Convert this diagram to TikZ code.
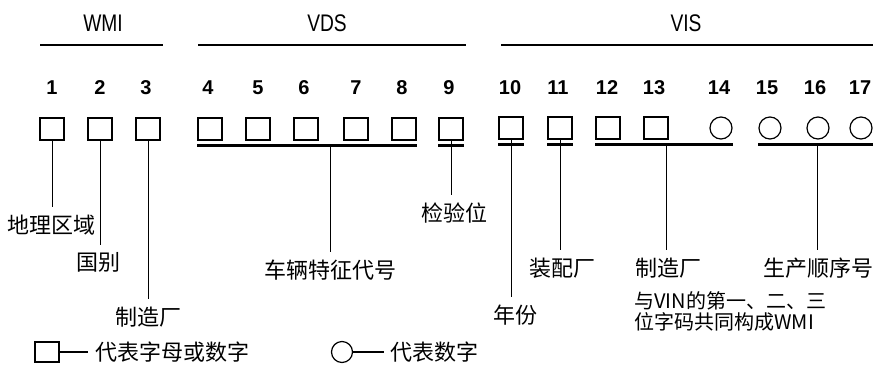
\documentclass[tikz,border=0pt]{standalone}
\usepackage{fontspec}
\setmainfont{Liberation Sans}
\newfontfamily\cjk{Noto Sans CJK SC}
\newfontfamily\narrowsf[FakeStretch=0.8]{Liberation Sans}

\begin{document}
\begin{tikzpicture}[x=0.5pt,y=-0.5pt,
  sq/.style={draw,line width=0.6pt,minimum width=12pt,minimum height=11pt,inner sep=0pt},
  rnd/.style={draw,circle,line width=0.6pt,minimum size=11pt,inner sep=0pt},
  num/.style={font=\bfseries\fontsize{10}{12}\selectfont,inner sep=0pt},
  grp/.style={font=\narrowsf\fontsize{12}{14}\selectfont,inner sep=0pt},
  lbl/.style={font=\cjk\fontsize{11}{13}\selectfont,inner sep=3.5pt},
  note/.style={font=\cjk\fontsize{10}{12}\selectfont,inner sep=0pt,anchor=west},
  bar/.style={line width=1.2pt},
  ubar/.style={line width=1.5pt},
  stem/.style={line width=0.5pt}]

  \useasboundingbox (0,0) rectangle (873,365);

  %% -- sections
  \node[grp] (wmi) at (103,23) {WMI};
  \node[grp] (vds) at (327,23) {VDS};
  \node[grp] (vis) at (686,23) {VIS};
  \draw[bar] (40,45) -- (163,45);
  \draw[bar] (198,45) -- (466,45);
  \draw[bar] (501,45) -- (873,45);

  %% -- positions
  \node[num] (n1)  at (52,88)  {1};
  \node[num] (n2)  at (100,88) {2};
  \node[num] (n3)  at (146,88) {3};
  \node[num] (n4)  at (208,88) {4};
  \node[num] (n5)  at (258,88) {5};
  \node[num] (n6)  at (304,88) {6};
  \node[num] (n7)  at (356,88) {7};
  \node[num] (n8)  at (402,88) {8};
  \node[num] (n9)  at (449,88) {9};
  \node[num] (n10) at (510,88) {10};
  \node[num] (n11) at (558,88) {11};
  \node[num] (n12) at (607,88) {12};
  \node[num] (n13) at (654,88) {13};
  \node[num] (n14) at (719,88) {14};
  \node[num] (n15) at (767,88) {15};
  \node[num] (n16) at (815,88) {16};
  \node[num] (n17) at (860,88) {17};

  %% -- characters
  \node[sq]  (b1)  at (52,129)  {};
  \node[sq]  (b2)  at (100,129) {};
  \node[sq]  (b3)  at (148,129) {};
  \node[sq]  (b4)  at (210,129) {};
  \node[sq]  (b5)  at (258,129) {};
  \node[sq]  (b6)  at (306,129) {};
  \node[sq]  (b7)  at (356,129) {};
  \node[sq]  (b8)  at (404,129) {};
  \node[sq]  (b9)  at (451,129) {};
  \node[sq]  (b10) at (511,128) {};
  \node[sq]  (b11) at (560,128) {};
  \node[sq]  (b12) at (608,128) {};
  \node[sq]  (b13) at (656,128) {};
  \node[rnd] (c14) at (721,128) {};
  \node[rnd] (c15) at (770,128) {};
  \node[rnd] (c16) at (818,128) {};
  \node[rnd] (c17) at (861,128) {};

  %% -- meanings
  \node[lbl] (t1)    at (52,225)  {地理区域};
  \node[lbl] (t2)    at (98,262)  {国别};
  \node[lbl] (t3)    at (148,317) {制造厂};
  \node[lbl] (t48)   at (330,270) {车辆特征代号};
  \node[lbl] (t9)    at (454,213) {检验位};
  \node[lbl] (t10)   at (515,315) {年份};
  \node[lbl] (t11)   at (562,268) {装配厂};
  \node[lbl] (t1214) at (668,268) {制造厂};
  \node[note] (t1214a) at (634,301) {与VIN的第一、二、三};
  \node[note] (t1214b) at (634,322) {位字码共同构成WMI};
  \node[lbl] (t1517) at (818,268) {生产顺序号};

  %% -- legend
  \node[sq,minimum height=10pt] (k1) at (47,352) {};
  \coordinate (k1d) at (88,352);
  \node[lbl,anchor=west,inner sep=0pt] (k1t) at (95,352) {代表字母或数字};
  \node[rnd,minimum size=10.5pt] (k2) at (342,352) {};
  \coordinate (k2d) at (384,352);
  \node[lbl,anchor=west,inner sep=0pt] (k2t) at (390,352) {代表数字};
  \draw[stem,line width=0.8pt] (k1.east) -- (k1d);
  \draw[stem,line width=0.8pt] (k2.east) -- (k2d);

  %% -- underlines
  \coordinate (u4)  at ([yshift=-2.5pt]b4.south west);
  \coordinate (u12) at ([yshift=-2.5pt]b12.south west);
  \coordinate (u15) at (u12 -| c15.west);
  \draw[ubar] (u4) -- (u4 -| b8.south east);
  \draw[ubar] ([yshift=-2.5pt]b9.south west) -- ([yshift=-2.5pt]b9.south east);
  \draw[ubar] ([yshift=-2.5pt]b10.south west) -- ([yshift=-2.5pt]b10.south east);
  \draw[ubar] ([yshift=-2.5pt]b11.south west) -- ([yshift=-2.5pt]b11.south east);
  \draw[ubar] (u12) -- (u12 -| c14.east);
  \draw[ubar] (u15) -- (u15 -| c17.east);

  %% -- stems
  \coordinate (s48)   at (330,145);
  \coordinate (s1214) at (666,145);
  \coordinate (s1517) at (817,145);
  \draw[stem] (b1.south) -- (b1.south |- t1.north);
  \draw[stem] (b2.south) -- (b2.south |- t2.north);
  \draw[stem] (b3.south) -- (b3.south |- t3.north);
  \draw[stem] (s48) -- (s48 |- t48.north);
  \draw[stem] (b9.south) -- (b9.south |- t9.north);
  \draw[stem] (b10.south) -- (b10.south |- t10.north);
  \draw[stem] (b11.south) -- (b11.south |- t11.north);
  \draw[stem] (s1214) -- (s1214 |- t1214.north);
  \draw[stem] (s1517) -- (s1517 |- t1517.north);

\end{tikzpicture}
\end{document}
